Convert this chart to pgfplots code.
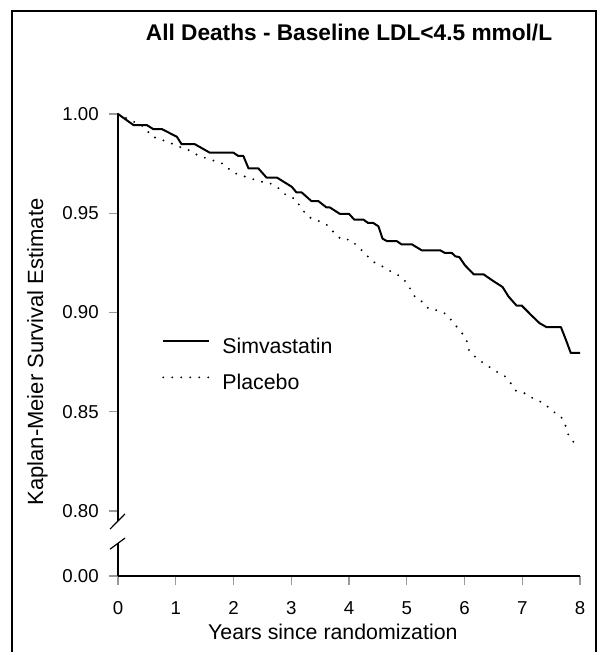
\documentclass[border=0pt]{standalone}
\usepackage{fontspec}
\setmainfont{Liberation Sans}
\usepackage{pgfplots}
\pgfplotsset{compat=1.18}

% Kaplan-Meier estimates
\pgfplotstableread{
x y
0.00 1.0000
0.27 0.9944
0.50 0.9944
0.61 0.9924
0.76 0.9924
1.02 0.9885
1.10 0.9848
1.33 0.9848
1.59 0.9805
2.00 0.9805
2.08 0.9789
2.17 0.9789
2.26 0.9726
2.43 0.9726
2.57 0.9680
2.75 0.9680
3.01 0.9633
3.09 0.9605
3.18 0.9605
3.35 0.9561
3.47 0.9561
3.61 0.9529
3.67 0.9529
3.84 0.9497
4.00 0.9497
4.09 0.9468
4.25 0.9468
4.33 0.9451
4.42 0.9451
4.51 0.9434
4.58 0.9372
4.66 0.9359
4.83 0.9359
4.91 0.9343
5.09 0.9343
5.26 0.9313
5.58 0.9313
5.66 0.9300
5.78 0.9300
5.84 0.9283
5.91 0.9279
6.01 0.9237
6.16 0.9192
6.33 0.9192
6.50 0.9158
6.66 0.9128
6.76 0.9081
6.90 0.9035
6.99 0.9035
7.16 0.8985
7.30 0.8946
7.42 0.8926
7.67 0.8926
7.76 0.8859
7.84 0.8796
8.00 0.8796
}\simva

\pgfplotstableread{
x y
0.00 1.0000
0.47 0.9933
0.57 0.9889
0.71 0.9874
0.87 0.9859
1.03 0.9838
1.19 0.9823
1.36 0.9796
1.52 0.9778
1.68 0.9763
1.84 0.9747
1.98 0.9706
2.14 0.9690
2.30 0.9675
2.46 0.9660
2.62 0.9653
2.78 0.9626
2.92 0.9589
3.08 0.9571
3.16 0.9529
3.30 0.9481
3.44 0.9465
3.60 0.9446
3.73 0.9406
3.87 0.9367
4.03 0.9367
4.13 0.9338
4.27 0.9300
4.40 0.9258
4.55 0.9237
4.69 0.9212
4.84 0.9190
4.95 0.9167
5.06 0.9120
5.15 0.9074
5.28 0.9052
5.38 0.9018
5.54 0.9010
5.69 0.8991
5.82 0.8943
5.95 0.8899
6.04 0.8855
6.08 0.8808
6.21 0.8769
6.37 0.8737
6.53 0.8706
6.70 0.8678
6.79 0.8648
6.89 0.8606
7.05 0.8592
7.22 0.8561
7.37 0.8544
7.53 0.8502
7.67 0.8476
7.75 0.8429
7.80 0.8382
7.88 0.8350
7.95 0.8328
}\placebo

\begin{document}
\begin{tikzpicture}
\useasboundingbox (0,0) rectangle (450pt,-489pt);
\draw[line width=1.3pt] (9pt,-490pt) -- (9pt,-8.25pt) -- (447pt,-8.25pt) -- (447pt,-490pt);
\begin{axis}[
  at={(88.5pt,-432pt)}, anchor=south west,
  scale only axis, width=346.5pt, height=346.5pt,
  xmin=0, xmax=8, ymin=0.7672, ymax=1.0,
  axis x line*=bottom, axis y line*=left,
  y axis line style={draw=none},
  x axis line style={line width=1.5pt},
  clip=false,
  xtick={0,...,8},
  ytick={0.7672,0.80,0.85,0.90,0.95,1.00},
  yticklabels={0.00,0.80,0.85,0.90,0.95,1.00},
  tick align=outside, major tick length=6.75pt,
  tick style={gray!80, line width=0.9pt},
  /pgf/number format/assume math mode=true,
  ticklabel style={font=\fontsize{14}{16}\selectfont, inner sep=0pt},
  xticklabel style={anchor=north, yshift=-12pt},
  yticklabel style={anchor=east, xshift=-7.5pt},
  title={\bfseries All Deaths - Baseline LDL<4.5 mmol/L},
  title style={font=\fontsize{17}{20}\selectfont, at={(axis description cs:0.5,1.141)}, anchor=base, inner sep=0pt},
  xlabel={Years since randomization},
  xlabel style={font=\fontsize{16}{19}\selectfont, at={(axis description cs:0.465,-0.1385)}, anchor=base, inner sep=0pt},
  ylabel={Kaplan-Meier Survival Estimate},
  ylabel style={font=\fontsize{16.5}{19}\selectfont, at={(axis description cs:-0.1623,0.485)}, anchor=base, rotate=0, inner sep=0pt},
  legend style={draw=none, fill=none, at={(axis description cs:0.095,0.4575)}, anchor=west,
    inner sep=0pt, row sep=14pt, font=\fontsize{16}{19}\selectfont,
    nodes={inner sep=0pt},
    /tikz/every odd column/.style={column sep=9pt}},
  legend cell align=left,
  legend image code/.code={\draw[#1] (0pt,0.4em) -- (34.5pt,0.4em);},
]
\addplot[black, line width=1.5pt, line join=round] table[x=x,y=y] {\simva};
\addlegendentry{Simvastatin}
\addplot[black, line width=1.6pt, line cap=round, dash pattern=on 0pt off 6.75pt] table[x=x,y=y] {\placebo};
\addlegendentry{Placebo}
% broken y axis
\draw[line width=1.5pt] (axis cs:0,1.0) -- (axis cs:0,0.7949);
\draw[line width=1.5pt] (axis cs:0,0.7837) -- (axis cs:0,0.7672);
\draw[line width=0.9pt] (axis cs:-0.139,0.7908) -- (axis cs:0.121,0.7985);
\draw[line width=0.9pt] (axis cs:-0.139,0.7807) -- (axis cs:0.121,0.7863);
\end{axis}
\end{tikzpicture}
\end{document}
